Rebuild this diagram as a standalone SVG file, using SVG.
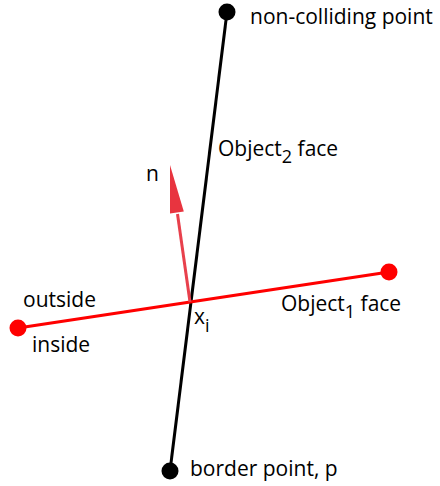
<svg xmlns="http://www.w3.org/2000/svg" width="440" height="486" viewBox="0 0 440 486">
<style>
text,tspan{font-family:"Open Sans","Liberation Sans",sans-serif;font-size:21px;fill:#000}
tspan.sub{font-size:18px}
.blk{stroke:#000;stroke-width:3;fill:none}
.red{stroke:#ff0000;stroke-width:3;fill:none}
.nrm{stroke:#e8404c;stroke-width:3;fill:none}
</style>
<rect width="440" height="486" fill="#fff"/>
<g id="connectors">
<line class="blk" x1="227" y1="12" x2="170" y2="471"/>
<line class="red" x1="18" y1="328" x2="389" y2="272"/>
<line class="nrm" x1="190" y1="302" x2="177.5" y2="214"/>
<polygon points="170,165 183.8,211.5 170,213.5" fill="#e8343f"/>
</g>
<g id="non-colliding">
<circle cx="227" cy="12" r="8.5" fill="#000"/>
<text x="250" y="24">non-colliding point</text>
</g>
<g id="border-point">
<circle cx="170" cy="471" r="8.5" fill="#000"/>
<text x="190" y="476">border point, p</text>
</g>
<g id="face1-left">
<circle cx="18" cy="328" r="8.5" fill="#ff0000"/>
</g>
<g id="face1-right">
<circle cx="389" cy="272" r="8.5" fill="#ff0000"/>
</g>
<g id="labels">
<text x="218" y="156">Object<tspan class="sub" dy="7">2</tspan><tspan dy="-7"> face</tspan></text>
<text x="281" y="311">Object<tspan class="sub" dy="7">1</tspan><tspan dy="-7"> face</tspan></text>
<text x="146" y="181">n</text>
<text x="23" y="307">outside</text>
<text x="32" y="352">inside</text>
<text x="194" y="324">x<tspan class="sub" dy="8">i</tspan></text>
</g>
</svg>
